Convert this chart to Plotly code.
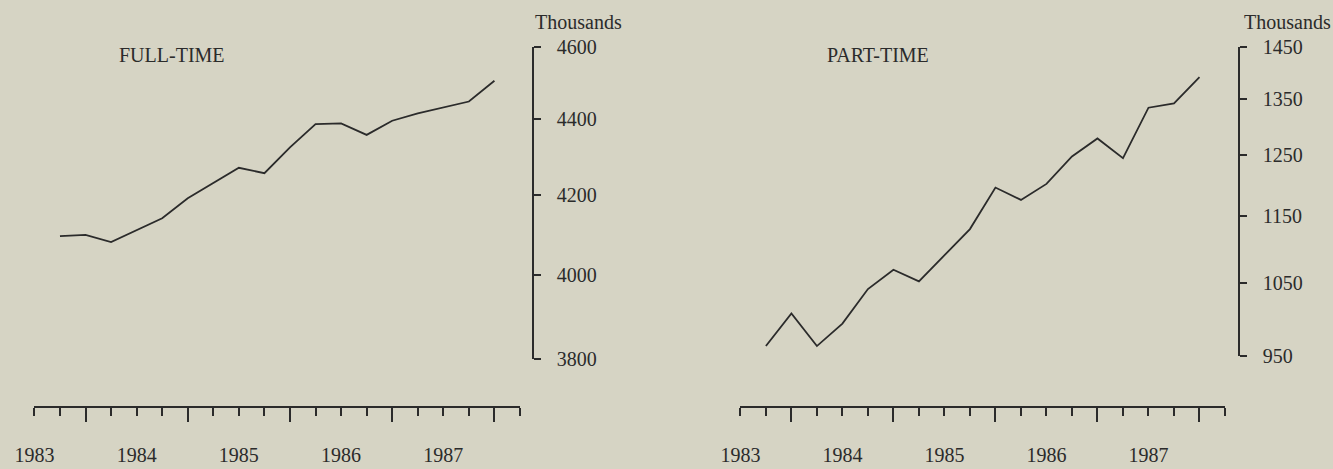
import math
import plotly.graph_objects as go

# ---- data (quarterly, thousands) ----
quarter_index = list(range(1, 19))
full_time = [4096, 4099, 4081, 4111, 4141, 4192, 4231, 4271, 4257, 4325,
             4387, 4389, 4358, 4396, 4416, 4431, 4448, 4505]
part_time = [963, 1007, 963, 993, 1041, 1069, 1052, 1091, 1130, 1196,
             1176, 1202, 1248, 1279, 1245, 1334, 1342, 1391]

year_labels = ["1983", "1984", "1985", "1986", "1987"]
year_label_pos = [0, 4, 8, 12, 16]
long_tick_pos = [2, 6, 10, 14, 18]
short_tick_pos = list(range(0, 20))

ft_ticks = [3800, 4000, 4200, 4400, 4600]
pt_ticks = [950, 1050, 1150, 1250, 1350, 1450]

W, H = 1333, 469
INK = "#2b2b2b"
BG = "#d6d4c4"
FONT = "Liberation Serif"
FS = 20


def px(x):
    return x / W


def py(y):
    return 1 - y / H


fig = go.Figure()
fig.add_trace(go.Scatter(x=quarter_index, y=full_time, mode="lines",
                         line=dict(color=INK, width=1.8), xaxis="x", yaxis="y",
                         showlegend=False, hoverinfo="skip"))
fig.add_trace(go.Scatter(x=quarter_index, y=part_time, mode="lines",
                         line=dict(color=INK, width=1.8), xaxis="x2", yaxis="y2",
                         showlegend=False, hoverinfo="skip"))

axis_y_px = 407
xr = [0, 19]


def main_x(domain):
    return dict(domain=domain, range=xr, anchor="free", position=py(axis_y_px),
                showline=True, linecolor=INK, linewidth=1.5,
                tickmode="array", tickvals=long_tick_pos, ticks="outside",
                ticklen=14, tickwidth=1.5, tickcolor=INK,
                showticklabels=False, showgrid=False, zeroline=False)


def label_x(over, domain):
    ticktext = [year_labels[year_label_pos.index(v)] if v in year_label_pos else ""
                for v in short_tick_pos]
    return dict(domain=domain, range=xr, overlaying=over, anchor="free",
                position=py(axis_y_px), showline=False,
                tickmode="array", tickvals=short_tick_pos, ticktext=ticktext,
                ticks="outside", ticklen=8, tickwidth=1.5, tickcolor=INK,
                ticklabelstandoff=22,
                tickfont=dict(family=FONT, size=FS, color=INK),
                showgrid=False, zeroline=False)


def y_axis(domain, rng, ticks, xpos):
    return dict(domain=domain, type="log",
                range=[math.log10(rng[0]), math.log10(rng[1])],
                anchor="free", position=xpos, side="right",
                showline=True, linecolor=INK, linewidth=1.5,
                tickmode="array", tickvals=ticks, ticktext=[str(t) for t in ticks],
                ticks="outside", ticklen=7, tickwidth=1.5, tickcolor=INK,
                ticklabelstandoff=12,
                tickfont=dict(family=FONT, size=FS, color=INK),
                showgrid=False, zeroline=False)


left_dom = [px(34.4), px(520)]
right_dom = [px(740.4), px(1225)]

fig.update_layout(
    width=W, height=H,
    margin=dict(l=0, r=0, t=0, b=0, autoexpand=False),
    paper_bgcolor=BG, plot_bgcolor="rgba(0,0,0,0)",
    xaxis=main_x(left_dom),
    xaxis2=main_x(right_dom),
    xaxis3=label_x("x", left_dom),
    xaxis4=label_x("x2", right_dom),
    yaxis=y_axis([py(358.5), py(46.7)], [3800, 4600], ft_ticks, px(533)),
    yaxis2=y_axis([py(356), py(46.7)], [950, 1450], pt_ticks, px(1239)),
)

# empty traces so the overlay label axes render
fig.add_trace(go.Scatter(x=[None], y=[None], xaxis="x3", yaxis="y", showlegend=False))
fig.add_trace(go.Scatter(x=[None], y=[None], xaxis="x4", yaxis="y2", showlegend=False))

ann_font = dict(family=FONT, size=FS, color=INK)
for text, cx, cy in [("FULL-TIME", 172, 55), ("PART-TIME", 878, 55),
                     ("Thousands", 578, 22), ("Thousands", 1287, 22)]:
    fig.add_annotation(text=text, x=px(cx), y=py(cy), xref="paper", yref="paper",
                       xanchor="center", yanchor="middle",
                       showarrow=False, font=ann_font)

fig.write_html("out.html", config={"displayModeBar": False},
               post_script="document.body.style.margin='0px';"
                           "document.body.style.overflow='hidden';")
